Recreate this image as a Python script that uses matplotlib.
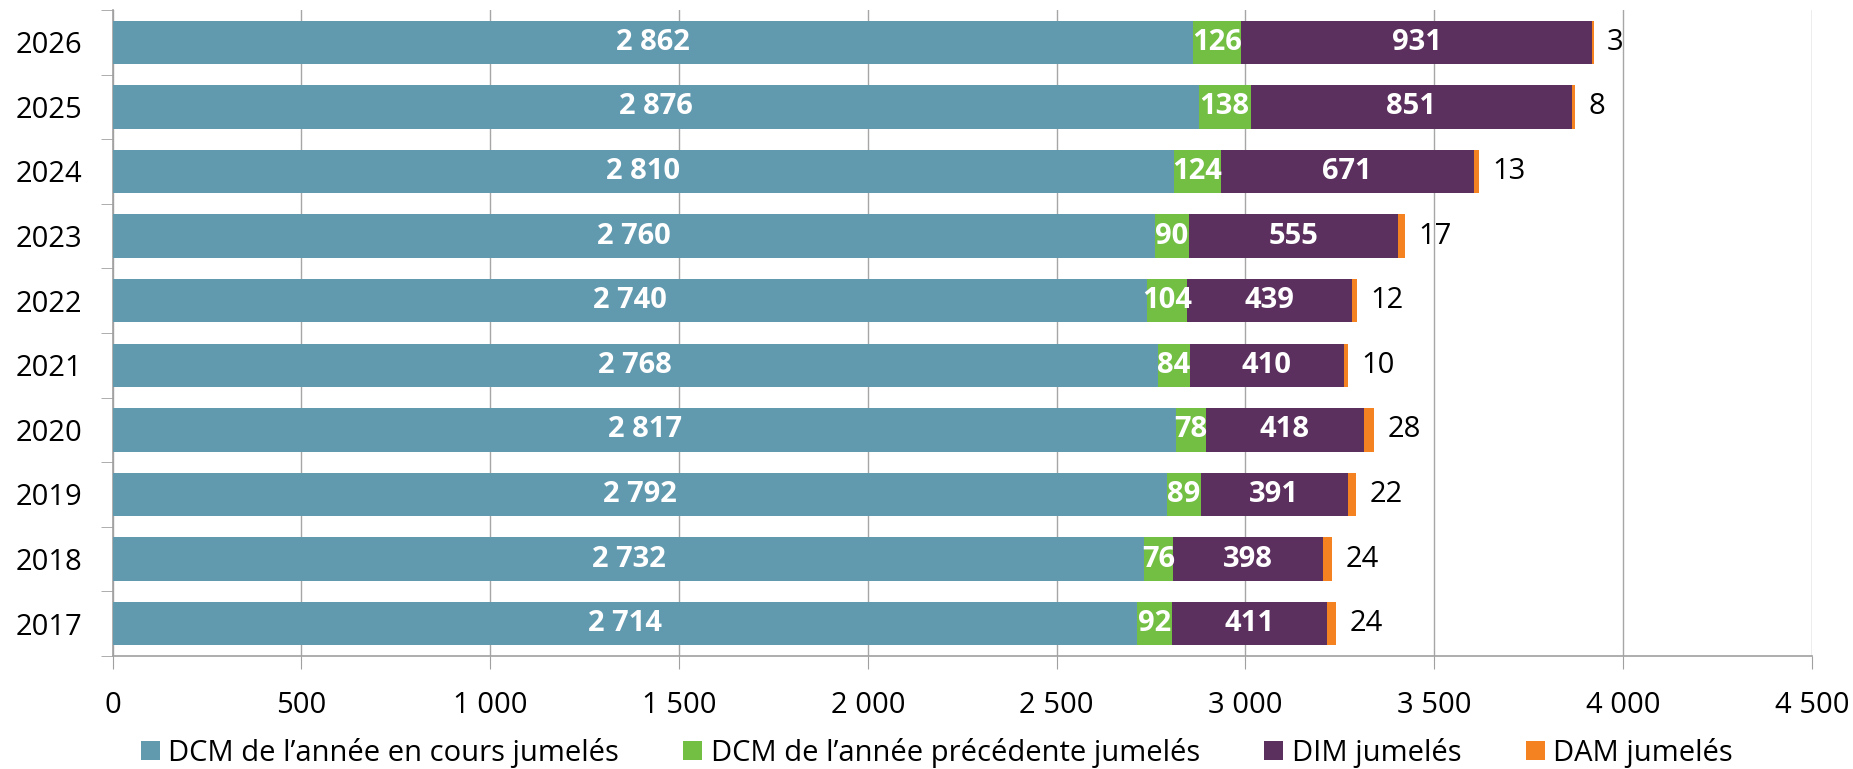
import matplotlib
matplotlib.use("Agg")
import matplotlib.pyplot as plt
import numpy as np

plt.rcParams['font.family'] = ['Open Sans', 'DejaVu Sans']

years = ['2017', '2018', '2019', '2020', '2021', '2022', '2023', '2024', '2025', '2026']
dcm_courant = [2714, 2732, 2792, 2817, 2768, 2740, 2760, 2810, 2876, 2862]
dcm_precedent = [92, 76, 89, 78, 84, 104, 90, 124, 138, 126]
dim = [411, 398, 391, 418, 410, 439, 555, 671, 851, 931]
dam = [24, 24, 22, 28, 10, 12, 17, 13, 8, 3]

series_names = ["DCM de l\u2019ann\u00e9e en cours jumel\u00e9s",
                "DCM de l\u2019ann\u00e9e pr\u00e9c\u00e9dente jumel\u00e9s",
                "DIM jumel\u00e9s", "DAM jumel\u00e9s"]
colors = ['#6199AF', '#72BF44', '#5B2F5E', '#F58220']
FS = 21


def fmt(v):
    return '{:,}'.format(v).replace(',', ' ')


fig = plt.figure(figsize=(18.53, 7.69), dpi=100)
ax = fig.add_axes([0.0608, 0.147, 0.917, 0.840])

y = np.arange(len(years))
left = np.zeros(len(years))
for vals, name, col in zip([dcm_courant, dcm_precedent, dim, dam], series_names, colors):
    ax.barh(y, vals, left=left, height=0.67, color=col, label=name, zorder=3)
    left = left + np.array(vals)

# value labels: white bold inside, DAM in black after the bar end
for i in range(len(years)):
    x0 = 0
    for vals in [dcm_courant, dcm_precedent, dim]:
        ax.text(x0 + vals[i] / 2, y[i], fmt(vals[i]), ha='center', va='center',
                color='white', fontsize=FS, fontweight='bold', zorder=4)
        x0 += vals[i]
    ax.text(left[i] + 35, y[i], fmt(dam[i]), ha='left', va='center',
            color='black', fontsize=FS, zorder=4)

ax.set_xlim(0, 4500)
ax.set_ylim(-0.5, len(years) - 0.5)
ax.set_xticks(np.arange(0, 4501, 500))
ax.set_xticklabels([fmt(v) for v in range(0, 4501, 500)], fontsize=FS)
ax.set_yticks(y)
ax.set_yticklabels(years, fontsize=FS)
ax.set_yticks(np.arange(-0.5, len(years), 1), minor=True)
ax.tick_params(axis='y', which='major', length=0, pad=22)
ax.tick_params(axis='y', which='minor', length=9, color='#A0A0A0', direction='out')
ax.tick_params(axis='x', length=9, color='#A0A0A0', pad=16)

ax.grid(axis='x', color='#A6A6A6', linewidth=1, zorder=0)
for s in ['top', 'right']:
    ax.spines[s].set_visible(False)
for s in ['left', 'bottom']:
    ax.spines[s].set_color('#A0A0A0')
    ax.spines[s].set_linewidth(1.2)

ax.legend(loc='center', bbox_to_anchor=(0.485, -0.15), ncol=4, frameon=False,
          fontsize=FS, handlelength=0.65, handleheight=0.65, handletextpad=0.3,
          columnspacing=2.2, borderpad=0)

fig.savefig('out.png', dpi=100)
